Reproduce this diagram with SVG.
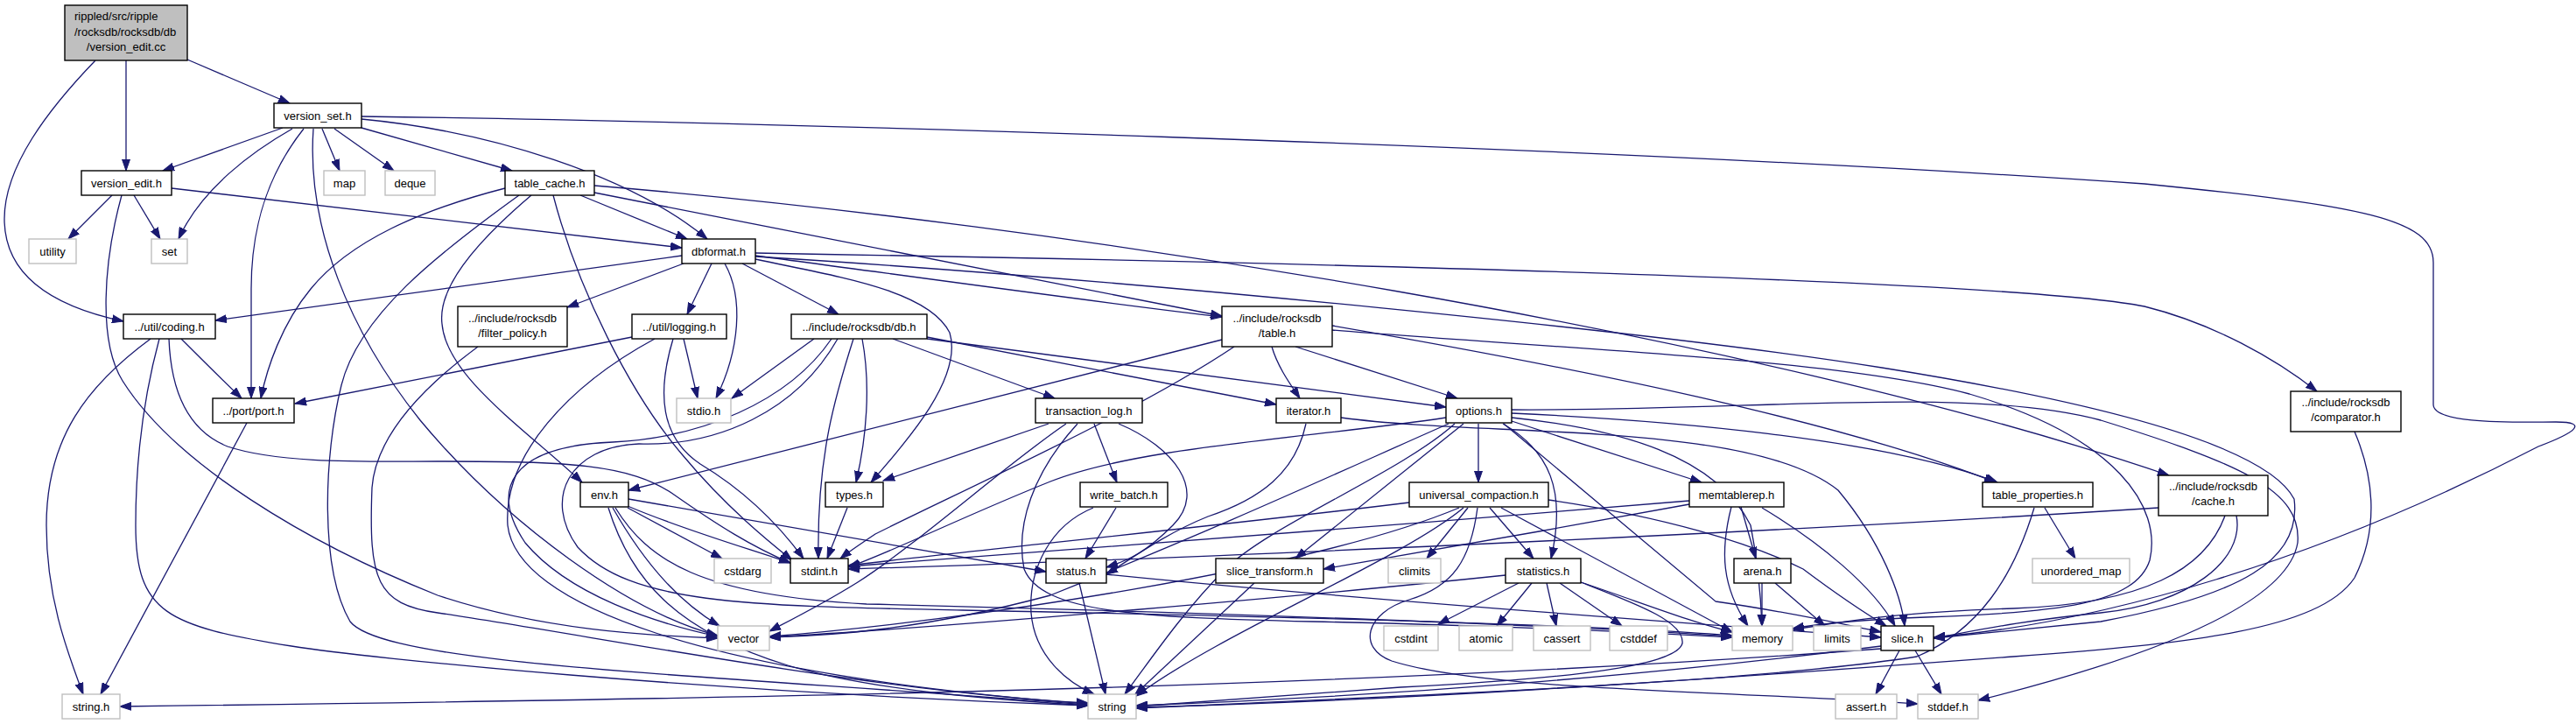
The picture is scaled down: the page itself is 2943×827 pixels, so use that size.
<svg xmlns="http://www.w3.org/2000/svg" width="2943" height="827" viewBox="0 0 2943 827">
<style>
.n rect{fill:#fff;stroke:#000;stroke-width:1.4}
.x rect{fill:#fff;stroke:#bfbfbf;stroke-width:1.4}
.r rect{fill:#bfbfbf;stroke:#000;stroke-width:1.4}
text{font-family:"Liberation Sans",Arial,sans-serif;font-size:13px;fill:#000;text-anchor:middle}
#edges path{fill:none;stroke:#191970;stroke-width:1.3;marker-end:url(#a)}
</style>
<defs>
<marker id="a" markerUnits="userSpaceOnUse" markerWidth="14" markerHeight="10" refX="13" refY="5" orient="auto"><path d="M0,0.5 L13,5 L0,9.5z" fill="#191970" stroke="#191970" stroke-width="1"/></marker>
</defs>
<rect width="2943" height="827" fill="#fff"/>
<g id="edges">
<path d="M144,69 L144,195"/>
<path d="M214,68 L331,118"/>
<path d="M109,69 C55,125 5,190 5,250 C5,320 70,352 141,367"/>
<path d="M323,146 L186,195"/>
<path d="M334,147 C290,172 230,215 204,273"/>
<path d="M368,147 L388,195"/>
<path d="M382,147 L450,195"/>
<path d="M413,146 L585,195"/>
<path d="M413,136 C560,150 720,200 808,273"/>
<path d="M347,147 C305,200 287,260 287,330 L287,455"/>
<path d="M358,147 C350,260 400,380 480,480 C580,600 720,700 820,726"/>
<path d="M413,133 C800,138 1800,165 2450,210 C2700,235 2780,250 2780,300 L2780,462 C2780,482 2850,483 2920,482 C2960,482 2940,495 2900,510 C2650,640 2400,712 2209,728"/>
<path d="M128,223 L78,273"/>
<path d="M153,223 L183,273"/>
<path d="M196,215 L779,283"/>
<path d="M139,223 C118,300 112,390 140,435 C200,530 350,620 500,680 C620,720 740,726 820,729"/>
<path d="M663,223 L785,273"/>
<path d="M577,215 C480,240 400,275 355,330 C322,370 305,420 298,455"/>
<path d="M607,223 C540,280 500,330 505,370 C510,430 600,490 665,551"/>
<path d="M632,223 C660,330 720,450 780,520 C830,580 880,620 905,640"/>
<path d="M593,223 C500,290 410,360 390,440 C370,520 365,650 400,710 C440,760 800,770 1243,805"/>
<path d="M679,220 L1396,361"/>
<path d="M679,212 C1200,255 2000,380 2478,543"/>
<path d="M779,292 L246,366"/>
<path d="M781,301 L648,351"/>
<path d="M813,301 L785,359"/>
<path d="M828,301 C850,340 845,400 818,455"/>
<path d="M848,301 L958,359"/>
<path d="M863,292 C1000,310 1250,345 1396,362"/>
<path d="M863,296 C950,315 1060,330 1085,380 C1100,430 1040,500 995,551"/>
<path d="M863,289 C1500,300 2300,320 2450,350 C2530,370 2600,410 2647,447"/>
<path d="M863,293 C1300,320 1900,380 2150,420 C2400,460 2590,510 2621,570 C2630,640 2560,680 2400,710 C2300,720 2250,725 2209,729"/>
<path d="M207,387 C220,400 250,430 276,455"/>
<path d="M172,387 C100,440 53,500 53,600 C53,680 75,740 95,793"/>
<path d="M193,387 C195,440 210,490 260,510 C320,530 420,527 500,527 C650,527 720,530 770,565 C820,600 860,625 903,643"/>
<path d="M182,387 C165,450 155,520 155,600 C155,700 190,715 333,738 C420,752 800,790 1243,806"/>
<path d="M546,396 C500,430 430,490 425,557 C421,663 430,690 500,700 C700,730 1000,790 1243,803"/>
<path d="M722,385 L337,461"/>
<path d="M781,387 L797,455"/>
<path d="M769,387 C750,450 755,500 800,530 C850,560 890,600 918,638"/>
<path d="M748,387 C650,440 575,520 580,600 C590,690 800,770 1243,804"/>
<path d="M930,387 L836,455"/>
<path d="M975,387 C955,450 933,520 935,638"/>
<path d="M985,387 C995,440 990,500 978,551"/>
<path d="M950,387 C900,460 800,500 700,505 C580,510 560,560 600,620 C650,680 750,712 820,727"/>
<path d="M957,387 C910,470 820,510 730,507 C650,510 620,570 660,625 C720,690 850,692 1100,697 C1500,705 1850,715 1979,726"/>
<path d="M1059,385 L1458,462"/>
<path d="M1059,387 L1652,465"/>
<path d="M1020,387 L1205,455"/>
<path d="M1396,388 L718,560"/>
<path d="M1453,396 C1460,420 1475,440 1485,455"/>
<path d="M1480,396 L1665,455"/>
<path d="M1522,377 C1800,400 2100,410 2250,450 C2420,500 2470,580 2456,640 C2440,690 2350,700 2200,705 C2120,708 2080,712 2048,718"/>
<path d="M1410,396 C1300,470 1100,560 1000,610 C985,620 970,630 960,638"/>
<path d="M1522,372 C1800,420 2100,480 2280,551"/>
<path d="M2690,493 C2710,540 2720,600 2690,660 C2650,720 2500,735 2300,750 C1900,780 1600,800 1298,808"/>
<path d="M2542,589 C2520,650 2450,690 2300,695 C2150,700 2100,712 2048,719"/>
<path d="M2466,580 C2000,610 1300,640 969,650"/>
<path d="M2555,589 C2565,640 2500,690 2400,700 C2300,710 2250,722 2209,729"/>
<path d="M282,483 L115,793"/>
<path d="M1278,484 C1340,510 1380,560 1340,600 C1310,630 1290,640 1264,648"/>
<path d="M1198,484 L1009,549"/>
<path d="M1250,484 L1276,551"/>
<path d="M1231,484 C1180,540 1160,600 1170,650 C1190,700 1300,705 1500,710 C1750,715 1900,724 1979,728"/>
<path d="M1218,484 C1150,530 1050,620 980,665 C940,690 900,710 879,721"/>
<path d="M1532,477 C1700,500 2000,480 2100,560 C2150,620 2172,680 2176,715"/>
<path d="M1492,484 C1480,540 1440,570 1380,590 C1330,610 1290,640 1264,656"/>
<path d="M1727,468 C2000,470 2250,440 2400,480 C2560,530 2630,560 2625,620 C2615,680 2500,740 2260,800"/>
<path d="M1662,484 C1600,540 1450,600 1400,650 C1350,700 1310,760 1285,793"/>
<path d="M1727,477 C1850,490 1960,520 2000,600 C2010,650 2012,690 2013,715"/>
<path d="M1655,484 C1550,530 1400,600 1200,680 C1050,720 950,726 879,728"/>
<path d="M1652,477 C1500,500 1300,510 1200,550 C1100,590 1020,630 969,648"/>
<path d="M1727,481 L1944,551"/>
<path d="M1718,484 L1960,687 C2050,700 2100,712 2149,722"/>
<path d="M1672,484 L1480,638"/>
<path d="M1717,484 C1770,515 1790,560 1772,638"/>
<path d="M1727,472 C1900,480 2150,500 2282,551"/>
<path d="M1689,484 L1689,551"/>
<path d="M717,580 L825,638"/>
<path d="M695,580 C720,660 770,720 900,760 C1000,790 1150,800 1243,806"/>
<path d="M703,580 C740,640 800,680 990,690 C1400,700 1800,715 1979,727"/>
<path d="M700,580 C740,650 780,690 822,715"/>
<path d="M717,578 C780,605 860,628 903,643"/>
<path d="M718,570 L1195,653"/>
<path d="M968,580 L945,638"/>
<path d="M1249,580 C1200,600 1175,650 1178,700 C1182,750 1220,780 1250,793"/>
<path d="M1275,580 L1240,638"/>
<path d="M1610,574 C1400,600 1100,630 969,646"/>
<path d="M1677,580 L1630,638"/>
<path d="M1667,580 C1500,650 1100,710 879,727"/>
<path d="M1769,571 C1900,590 2000,620 2060,650 C2100,680 2130,700 2155,715"/>
<path d="M1702,580 L1752,638"/>
<path d="M1672,580 C1600,640 1400,720 1298,795"/>
<path d="M1715,580 L1979,722"/>
<path d="M1688,580 C1680,640 1660,670 1610,685 C1560,700 1550,740 1590,755 C1700,790 2000,790 2191,804"/>
<path d="M1978,579 C1965,630 1967,670 1997,715"/>
<path d="M1930,572 C1600,600 1200,630 969,647"/>
<path d="M1989,579 L2006,638"/>
<path d="M2013,580 C2080,620 2140,670 2165,715"/>
<path d="M1930,576 C1800,600 1600,635 1512,650"/>
<path d="M2324,580 C2300,660 2260,720 2190,750 C2000,780 1600,795 1298,809"/>
<path d="M2336,580 L2371,638"/>
<path d="M1233,666 L1263,793"/>
<path d="M1264,656 C1500,680 1900,710 2149,728"/>
<path d="M1433,666 L1297,793"/>
<path d="M1735,666 L1643,713"/>
<path d="M1750,666 L1710,715"/>
<path d="M1767,666 L1778,715"/>
<path d="M1782,666 L1853,715"/>
<path d="M1720,657 C1500,680 1100,715 879,728"/>
<path d="M1806,665 C1880,690 1930,710 1979,722"/>
<path d="M1806,665 C1870,690 1925,710 1922,735 C1915,760 1800,775 1600,785 C1450,795 1350,803 1298,807"/>
<path d="M2013,666 L2013,715"/>
<path d="M2028,666 L2085,715"/>
<path d="M2170,743 L2143,793"/>
<path d="M2188,743 L2218,793"/>
<path d="M2149,741 C1500,790 700,800 137,807"/>
<path d="M2149,738 C1900,770 1600,795 1298,806"/>
</g>
<g id="n_cc" class="r"><rect x="74" y="6" width="140" height="63"/><text x="85" y="23" style="text-anchor:start">rippled/src/ripple</text><text x="85" y="41" style="text-anchor:start">/rocksdb/rocksdb/db</text><text x="144" y="58">/version_edit.cc</text></g>
<g id="n_vs" class="n"><rect x="313" y="118" width="100" height="28"/><text x="363" y="136.5">version_set.h</text></g>
<g id="n_ve" class="n"><rect x="93" y="195" width="103" height="28"/><text x="144.5" y="213.5">version_edit.h</text></g>
<g id="n_map" class="x"><rect x="370" y="195" width="47" height="28"/><text x="393.5" y="213.5">map</text></g>
<g id="n_deque" class="x"><rect x="440" y="195" width="57" height="28"/><text x="468.5" y="213.5">deque</text></g>
<g id="n_utility" class="x"><rect x="33" y="273" width="54" height="28"/><text x="60" y="291.5">utility</text></g>
<g id="n_set" class="x"><rect x="173" y="273" width="41" height="28"/><text x="193.5" y="291.5">set</text></g>
<g id="n_coding" class="n"><rect x="141" y="359" width="105" height="28"/><text x="193.5" y="377.5">../util/coding.h</text></g>
<g id="n_tc" class="n"><rect x="577" y="195" width="102" height="28"/><text x="628" y="213.5">table_cache.h</text></g>
<g id="n_dbf" class="n"><rect x="779" y="273" width="84" height="28"/><text x="821" y="291.5">dbformat.h</text></g>
<g id="n_fp" class="n"><rect x="523" y="350" width="125" height="46"/><text x="585.5" y="368">../include/rocksdb</text><text x="585.5" y="385">/filter_policy.h</text></g>
<g id="n_log" class="n"><rect x="722" y="359" width="108" height="28"/><text x="776" y="377.5">../util/logging.h</text></g>
<g id="n_db" class="n"><rect x="904" y="359" width="155" height="28"/><text x="981.5" y="377.5">../include/rocksdb/db.h</text></g>
<g id="n_table" class="n"><rect x="1396" y="350" width="126" height="46"/><text x="1459" y="368">../include/rocksdb</text><text x="1459" y="385">/table.h</text></g>
<g id="n_comp" class="n"><rect x="2617" y="447" width="126" height="46"/><text x="2680" y="464">../include/rocksdb</text><text x="2680" y="481">/comparator.h</text></g>
<g id="n_cache" class="n"><rect x="2466" y="543" width="125" height="46"/><text x="2528.5" y="560">../include/rocksdb</text><text x="2528.5" y="577">/cache.h</text></g>
<g id="n_port" class="n"><rect x="243" y="455" width="93" height="28"/><text x="289.5" y="473.5">../port/port.h</text></g>
<g id="n_stdio" class="x"><rect x="773" y="455" width="62" height="28"/><text x="804" y="473.5">stdio.h</text></g>
<g id="n_tlog" class="n"><rect x="1183" y="455" width="122" height="28"/><text x="1244" y="473.5">transaction_log.h</text></g>
<g id="n_iter" class="n"><rect x="1458" y="455" width="74" height="28"/><text x="1495" y="473.5">iterator.h</text></g>
<g id="n_opt" class="n"><rect x="1652" y="455" width="75" height="28"/><text x="1689.5" y="473.5">options.h</text></g>
<g id="n_env" class="n"><rect x="663" y="551" width="55" height="28"/><text x="690.5" y="569.5">env.h</text></g>
<g id="n_types" class="n"><rect x="943" y="551" width="66" height="28"/><text x="976" y="569.5">types.h</text></g>
<g id="n_wb" class="n"><rect x="1234" y="551" width="100" height="28"/><text x="1284" y="569.5">write_batch.h</text></g>
<g id="n_univ" class="n"><rect x="1610" y="551" width="159" height="28"/><text x="1689.5" y="569.5">universal_compaction.h</text></g>
<g id="n_mtr" class="n"><rect x="1930" y="551" width="108" height="28"/><text x="1984" y="569.5">memtablerep.h</text></g>
<g id="n_tp" class="n"><rect x="2265" y="551" width="126" height="28"/><text x="2328" y="569.5">table_properties.h</text></g>
<g id="n_cstdarg" class="x"><rect x="816" y="638" width="65" height="28"/><text x="848.5" y="656.5">cstdarg</text></g>
<g id="n_stdint" class="n"><rect x="903" y="638" width="66" height="28"/><text x="936" y="656.5">stdint.h</text></g>
<g id="n_status" class="n"><rect x="1195" y="638" width="69" height="28"/><text x="1229.5" y="656.5">status.h</text></g>
<g id="n_st" class="n"><rect x="1389" y="638" width="123" height="28"/><text x="1450.5" y="656.5">slice_transform.h</text></g>
<g id="n_climits" class="x"><rect x="1586" y="638" width="60" height="28"/><text x="1616" y="656.5">climits</text></g>
<g id="n_stats" class="n"><rect x="1720" y="638" width="86" height="28"/><text x="1763" y="656.5">statistics.h</text></g>
<g id="n_arena" class="n"><rect x="1981" y="638" width="65" height="28"/><text x="2013.5" y="656.5">arena.h</text></g>
<g id="n_umap" class="x"><rect x="2322" y="638" width="111" height="28"/><text x="2377.5" y="656.5">unordered_map</text></g>
<g id="n_vector" class="x"><rect x="820" y="715" width="59" height="28"/><text x="849.5" y="733.5">vector</text></g>
<g id="n_cstdint" class="x"><rect x="1581" y="715" width="62" height="28"/><text x="1612" y="733.5">cstdint</text></g>
<g id="n_atomic" class="x"><rect x="1667" y="715" width="61" height="28"/><text x="1697.5" y="733.5">atomic</text></g>
<g id="n_cassert" class="x"><rect x="1752" y="715" width="65" height="28"/><text x="1784.5" y="733.5">cassert</text></g>
<g id="n_cstddef" class="x"><rect x="1839" y="715" width="66" height="28"/><text x="1872" y="733.5">cstddef</text></g>
<g id="n_memory" class="x"><rect x="1979" y="715" width="69" height="28"/><text x="2013.5" y="733.5">memory</text></g>
<g id="n_limits" class="x"><rect x="2072" y="715" width="54" height="28"/><text x="2099" y="733.5">limits</text></g>
<g id="n_slice" class="n"><rect x="2149" y="715" width="60" height="28"/><text x="2179" y="733.5">slice.h</text></g>
<g id="n_stringh" class="x"><rect x="71" y="793" width="66" height="28"/><text x="104" y="811.5">string.h</text></g>
<g id="n_string" class="x"><rect x="1243" y="793" width="55" height="28"/><text x="1270.5" y="811.5">string</text></g>
<g id="n_asserth" class="x"><rect x="2097" y="793" width="70" height="28"/><text x="2132" y="811.5">assert.h</text></g>
<g id="n_stddefh" class="x"><rect x="2191" y="793" width="69" height="28"/><text x="2225.5" y="811.5">stddef.h</text></g>
</svg>
